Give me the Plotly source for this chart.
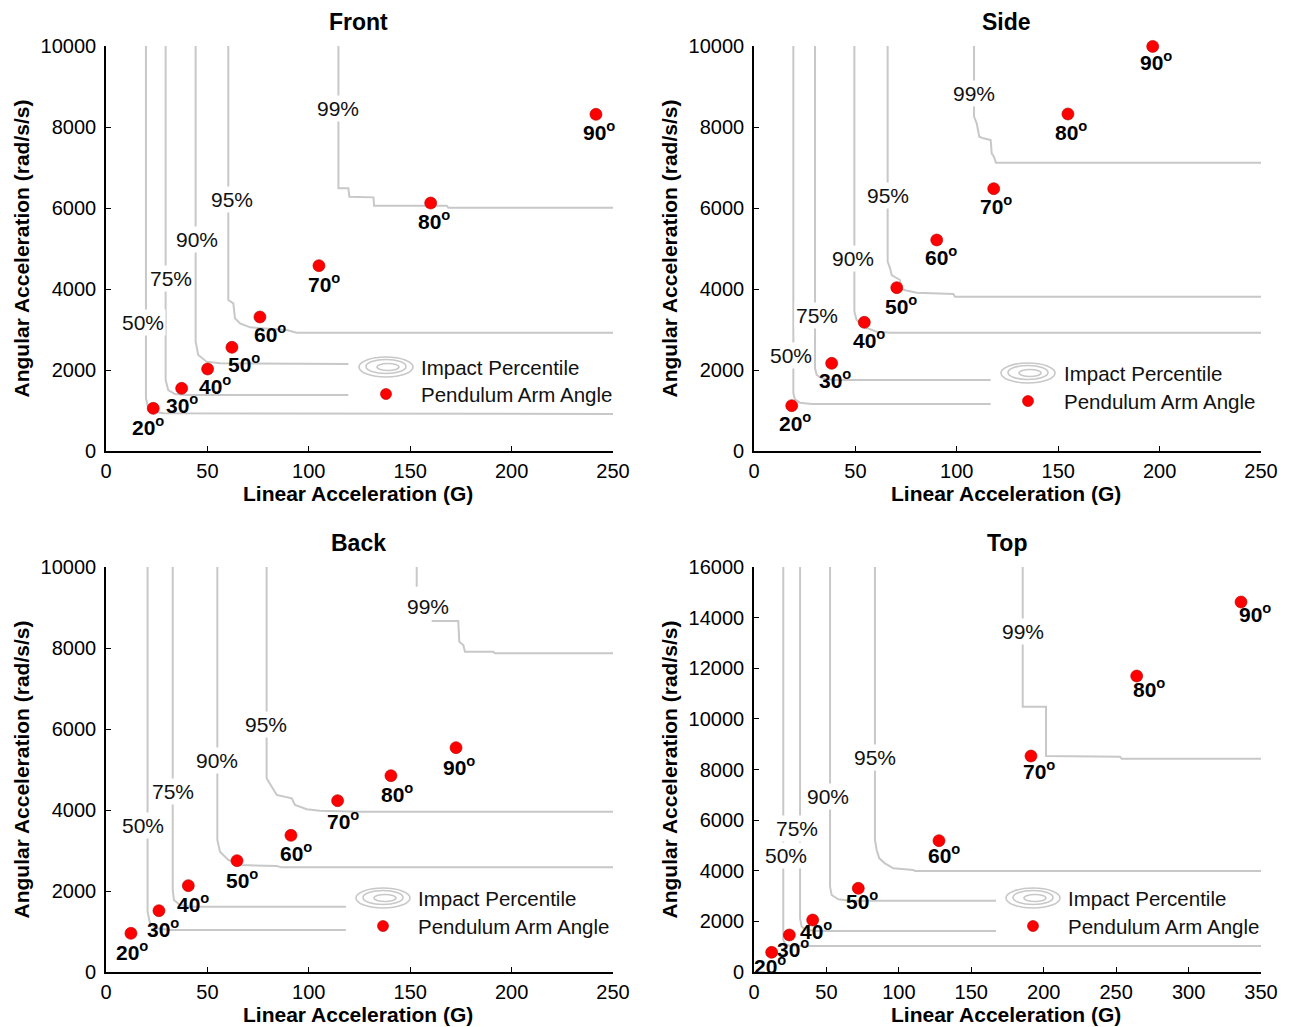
import plotly.graph_objects as go

W, H = 1289, 1027
FONT = "Liberation Sans, Arial, sans-serif"
GRAY = "#c8c8c8"

# ---------------- data ----------------
panel_names = ["Front", "Side", "Back", "Top"]
angle_labels = ["20", "30", "40", "50", "60", "70", "80", "90"]
percentile_labels = ["50%", "75%", "90%", "95%", "99%"]

x_ranges = [[0, 250], [0, 250], [0, 250], [0, 350]]
y_ranges = [[0, 10000], [0, 10000], [0, 10000], [0, 16000]]
y_dticks = [2000, 2000, 2000, 2000]

# pendulum arm angle points (linear G, angular rad/s/s)
front_lin = [23.3, 37.3, 50.1, 62.1, 75.9, 105.0, 160.1, 241.6]
front_ang = [1053, 1547, 2025, 2560, 3309, 4576, 6123, 8313]
side_lin = [18.6, 38.3, 54.4, 70.4, 90.1, 118.2, 154.8, 196.6]
side_ang = [1119, 2165, 3177, 4033, 5210, 6477, 8321, 9990]
back_lin = [12.3, 26.1, 40.6, 64.6, 91.2, 114.2, 140.5, 172.6]
back_ang = [955, 1514, 2132, 2749, 3374, 4230, 4848, 5539]
top_lin = [12.2, 24.4, 40.5, 72.0, 127.7, 191.2, 264.2, 336.2]
top_ang = [777, 1462, 2054, 3305, 5188, 8533, 11694, 14617]

# impact percentile contours (one polyline per percentile, None = gap)
front_contour_x = [
    [19.7, 19.7, 20.9, 23.3, 28.3, 250],
    [29.4, 29.4, 30.7, 34.0, 39.8, 119.5],
    [44.2, 44.2, 45.5, 49.6, 56.2, 119.5],
    [60.3, 60.3, 62.8, 63.6, 66.1, 71.0, 89.1, 94.0, 250],
    [114.6, 114.6, 119.5, 120.0, 131.9, 132.2, 168.0, 168.8, 250],
]
front_contour_y = [
    [10000, 1300, 1054, 972, 930, 914],
    [10000, 1753, 1506, 1407, 1383, 1383],
    [10000, 2699, 2370, 2206, 2165, 2148],
    [10000, 3728, 3646, 3276, 3152, 3053, 2987, 2921, 2921],
    [10000, 6485, 6485, 6280, 6263, 6058, 6058, 6008, 6008],
]
side_contour_x = [
    [19.4, 19.4, 20.2, 22.7, 28.4, 116.7],
    [30.1, 30.1, 30.9, 33.4, 39.1, 116.7],
    [49.5, 49.5, 50.6, 53.9, 60.5, 67.1, 250],
    [65.9, 65.9, 67.1, 67.9, 72.0, 72.8, 80.2, 98.3, 99.1, 250],
    [108.5, 108.5, 109.8, 111.1, 113.1, 116.7, 117.2, 118.3, 119.3, 250],
]
side_contour_y = [
    [10000, 1424, 1276, 1193, 1160, 1160],
    [10000, 2041, 1877, 1794, 1753, 1753],
    [10000, 3440, 3235, 3070, 2947, 2922, 2922],
    [10000, 4675, 4510, 4346, 4222, 3991, 3909, 3876, 3810, 3810],
    [10000, 8255, 8090, 7761, 7720, 7679, 7350, 7267, 7119, 7119],
]
back_contour_x = [
    [20.5, 20.5, 21.7, 25.0, 31.6, 118.3],
    [32.9, 32.9, 33.5, 36.5, 41.4, 118.3],
    [54.9, 54.9, 56.2, 60.3, 66.1, 84.2, 86.6, 250],
    [79.2, 79.2, 80.9, 84.2, 91.6, 93.2, 99.0, 105.5, 125.2, 250],
    [153.2, 153.2, None, 160.6, 173.7, 174.2, 176.2, 177.0, 191.0, 191.8, 250],
]
back_contour_y = [
    [10000, 1490, 1201, 1078, 1037, 1037],
    [10000, 2025, 1778, 1654, 1613, 1613],
    [10000, 3259, 2971, 2765, 2642, 2617, 2584, 2584],
    [10000, 4782, 4642, 4371, 4288, 4124, 4017, 3984, 3959, 3959],
    [10000, 9514, None, 8666, 8666, 8156, 8074, 7909, 7909, 7868, 7868],
]
top_contour_x = [
    [20.2, 20.2, 21.4, 24.9, 350],
    [31.8, 31.8, 32.9, 36.4, 43.3, 167.1],
    [52.5, 52.5, 53.6, 58.2, 66.3, 167.1],
    [83.5, 83.5, 84.7, 86.5, 90.4, 96.2, 110.0, 111.1, 350],
    [185.5, 185.5, 201.6, 201.6, 252.6, 253.8, 350],
]
top_contour_y = [
    [16000, 1264, 1106, 1027, 1027],
    [16000, 2120, 1791, 1659, 1620, 1620],
    [16000, 3371, 3042, 2871, 2818, 2818],
    [16000, 5215, 4820, 4490, 4293, 4095, 4030, 3990, 3990],
    [16000, 10482, 10482, 8533, 8506, 8427, 8427],
]

# contour label positions (data coords)
front_clabel_x = [18.0, 32.2, 44.7, 62.2, 114.2]
front_clabel_y = [3173, 4263, 5234, 6206, 8469]
side_clabel_x = [18.2, 31.3, 48.6, 66.0, 108.6]
side_clabel_y = [2370, 3358, 4757, 6321, 8839]
back_clabel_x = [18.4, 32.9, 54.6, 78.7, 158.9]
back_clabel_y = [3629, 4452, 5234, 6115, 9020]
top_clabel_x = [22.0, 30.0, 51.3, 83.5, 185.9]
top_clabel_y = [4622, 5676, 6927, 8467, 13445]

panels_lin = [front_lin, side_lin, back_lin, top_lin]
panels_ang = [front_ang, side_ang, back_ang, top_ang]
panels_cx = [front_contour_x, side_contour_x, back_contour_x, top_contour_x]
panels_cy = [front_contour_y, side_contour_y, back_contour_y, top_contour_y]
panels_lx = [front_clabel_x, side_clabel_x, back_clabel_x, top_clabel_x]
panels_ly = [front_clabel_y, side_clabel_y, back_clabel_y, top_clabel_y]

# ---------------- layout / style ----------------
def px(x):
    return x / W

def py(y):
    return 1 - y / H

x_domains = [[106, 613], [754, 1261], [106, 613], [754, 1261]]
y_domains = [[46, 451], [46, 451], [567, 972], [567, 972]]

# angle label pixel offsets (dx right, dy down)
label_dx = [[-5, 0, 7, 12, 10, 5, 3, 3],
            [3, 3, 5, 4, 4, 2, 3, 3],
            [1, 4, 5, 5, 5, 5, 6, 3],
            [-2, 4, 3, 4, 5, 8, 12, 14]]
label_dy = [[20, 18, 18, 18, 18, 19, 19, 19],
            [18, 18, 19, 19, 18, 18, 19, 17],
            [20, 19, 19, 20, 19, 21, 19, 20],
            [15, 15, 12, 14, 15, 16, 14, 13]]

# legend: icon centre x, icon centre y, text x, row2 y (pixels)
legend_pos = [(386, 367, 419, 394), (1028, 373, 1062, 401),
              (383, 898, 416, 926), (1033, 898, 1066, 926)]

fig = go.Figure()
annotations = []
shapes = []

for i in range(4):
    n = "" if i == 0 else str(i + 1)
    xa, ya = "x" + n, "y" + n
    # contours
    for k in range(5):
        fig.add_trace(go.Scatter(
            x=panels_cx[i][k], y=panels_cy[i][k], mode="lines",
            line=dict(color=GRAY, width=2), xaxis=xa, yaxis=ya,
            showlegend=False, hoverinfo="skip", connectgaps=False))
        annotations.append(dict(
            x=panels_lx[i][k], y=panels_ly[i][k], xref=xa, yref=ya,
            xanchor="center", yanchor="middle",
            text=percentile_labels[k], showarrow=False, bgcolor="white",
            borderpad=1, font=dict(family=FONT, size=21, color="#111")))
    # points
    fig.add_trace(go.Scatter(
        x=panels_lin[i], y=panels_ang[i], mode="markers",
        marker=dict(color="#ff0000", size=12, line=dict(color="#b00000", width=0.6)),
        xaxis=xa, yaxis=ya, showlegend=False, cliponaxis=False,
        name="Pendulum Arm Angle"))
    for j in range(8):
        annotations.append(dict(
            x=panels_lin[i][j], y=panels_ang[i][j], xref=xa, yref=ya,
            xanchor="center", yanchor="middle",
            text="<b>" + angle_labels[j] + "<sup>o</sup></b>", showarrow=False,
            xshift=label_dx[i][j], yshift=-label_dy[i][j] + 2,
            font=dict(family=FONT, size=21, color="black")))
    # axes
    xd = x_domains[i]
    yd = y_domains[i]
    common = dict(showgrid=False, zeroline=False, showline=True, linecolor="black",
                  linewidth=1.6, ticks="inside", ticklen=5, tickwidth=1.4,
                  tickcolor="black", mirror=False, automargin=False,
                  tickformat="d",
                  tickfont=dict(family=FONT, size=20, color="black"))
    fig.layout["xaxis" + n] = dict(
        domain=[px(xd[0]), px(xd[1])], range=x_ranges[i], dtick=50, tick0=0,
        anchor=ya, ticklabelstandoff=1, **common)
    fig.layout["yaxis" + n] = dict(
        domain=[py(yd[1]), py(yd[0])], range=y_ranges[i], dtick=y_dticks[i], tick0=0,
        anchor=xa, ticklabelstandoff=4, **common)
    cx = (xd[0] + xd[1]) / 2
    # panel title
    annotations.append(dict(
        x=px(cx - 1), y=py(yd[0] - 24), xref="paper", yref="paper",
        xanchor="center", yanchor="middle",
        text="<b>" + panel_names[i] + "</b>", showarrow=False,
        font=dict(family=FONT, size=23, color="black")))
    # axis titles
    annotations.append(dict(
        x=px(cx - 2), y=py(yd[1] + 42), xref="paper", yref="paper",
        xanchor="center", yanchor="middle",
        text="<b>Linear Acceleration (G)</b>", showarrow=False,
        font=dict(family=FONT, size=21, color="black")))
    annotations.append(dict(
        x=px(xd[0] - 85), y=py((yd[0] + yd[1]) / 2), xref="paper", yref="paper",
        xanchor="center", yanchor="middle",
        text="<b>Angular Acceleration (rad/s/s)</b>", showarrow=False, textangle=-90,
        font=dict(family=FONT, size=21, color="black")))
    # legend
    icx, icy, tx, r2 = legend_pos[i]
    for (w, h, ox, oy) in [(54, 20, 0, 0), (40, 14, 0, -0.5), (22, 7, 2, 0)]:
        shapes.append(dict(type="circle", xref="paper", yref="paper",
                           x0=px(icx + ox - w / 2), x1=px(icx + ox + w / 2),
                           y0=py(icy + oy + h / 2), y1=py(icy + oy - h / 2),
                           line=dict(color=GRAY, width=1.6), layer="above"))
    shapes.append(dict(type="circle", xref="paper", yref="paper",
                       x0=px(icx - 5.5), x1=px(icx + 5.5),
                       y0=py(r2 + 5.5), y1=py(r2 - 5.5),
                       fillcolor="#ff0000", line=dict(color="#b00000", width=0.6),
                       layer="above"))
    annotations.append(dict(x=px(tx), y=py(icy), xref="paper", yref="paper",
                            xanchor="left", yanchor="middle",
                            text="Impact Percentile", showarrow=False,
                            font=dict(family=FONT, size=20.5, color="#111")))
    annotations.append(dict(x=px(tx), y=py(r2), xref="paper", yref="paper",
                            xanchor="left", yanchor="middle",
                            text="Pendulum Arm Angle", showarrow=False,
                            font=dict(family=FONT, size=20.5, color="#111")))

fig.update_layout(
    width=W, height=H, margin=dict(l=0, r=0, t=0, b=0, pad=0, autoexpand=False),
    paper_bgcolor="white", plot_bgcolor="white",
    annotations=annotations, shapes=shapes, showlegend=False,
    font=dict(family=FONT, color="black"))

fig.write_html(
    "out.html",
    config={"displayModeBar": False},
    post_script="document.body.style.margin='0';document.body.style.overflow='hidden';")
